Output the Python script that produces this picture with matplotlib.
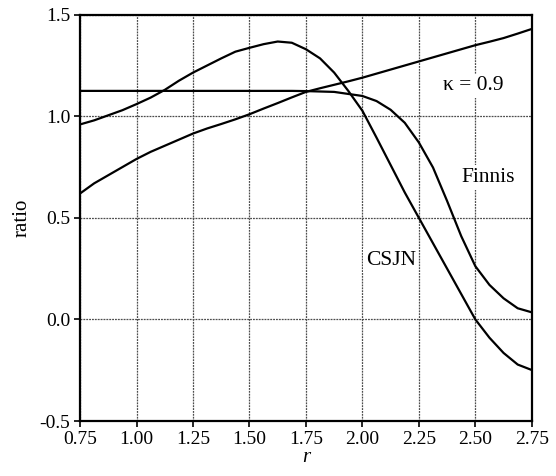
import matplotlib.pyplot as plt

plt.rcParams["font.family"] = ["Liberation Serif", "DejaVu Serif"]

r = [0.75, 0.8125, 0.875, 0.9375, 1.0, 1.0625, 1.125, 1.1875, 1.25, 1.3125,
     1.375, 1.4375, 1.5, 1.5625, 1.625, 1.6875, 1.75, 1.8125, 1.875, 1.9375,
     2.0, 2.0625, 2.125, 2.1875, 2.25, 2.3125, 2.375, 2.4375, 2.5, 2.5625,
     2.625, 2.6875, 2.75]

kappa_line = [0.62, 0.67, 0.71, 0.75, 0.79, 0.825, 0.855, 0.885, 0.915, 0.94,
              0.962, 0.985, 1.01, 1.038, 1.065, 1.093, 1.12, 1.138, 1.155, 1.172,
              1.19, 1.21, 1.23, 1.25, 1.27, 1.29, 1.31, 1.33, 1.35, 1.367,
              1.385, 1.407, 1.43]
csjn = [0.96, 0.98, 1.005, 1.03, 1.06, 1.092, 1.13, 1.175, 1.215, 1.25,
        1.285, 1.318, 1.337, 1.355, 1.368, 1.362, 1.33, 1.285, 1.215, 1.125,
        1.027, 0.895, 0.76, 0.625, 0.50, 0.375, 0.25, 0.125, 0.0, -0.09,
        -0.165, -0.222, -0.249]
finnis = [1.125, 1.125, 1.125, 1.125, 1.125, 1.125, 1.125, 1.125, 1.125, 1.125,
          1.125, 1.125, 1.125, 1.125, 1.125, 1.125, 1.124, 1.122, 1.12, 1.11,
          1.10, 1.075, 1.032, 0.968, 0.871, 0.748, 0.583, 0.41, 0.262, 0.17,
          0.104, 0.055, 0.035]

xticks = [0.75, 1.00, 1.25, 1.50, 1.75, 2.00, 2.25, 2.50, 2.75]
yticks = [-0.5, 0.0, 0.5, 1.0, 1.5]

fig = plt.figure(figsize=(5.56, 4.76), dpi=100)
ax = fig.add_axes([0.144, 0.1155, 0.8125, 0.8536])

for y in yticks:
    ax.axhline(y, color="0.3", lw=0.9, ls=(0, (1.5, 0.8)), zorder=1)
for x in xticks:
    ax.axvline(x, color="0.3", lw=0.9, ls=(0, (1.5, 0.8)), zorder=1)

ax.plot(r, kappa_line, color="black", lw=1.6, zorder=3)
ax.plot(r, csjn, color="black", lw=1.6, zorder=3)
ax.plot(r, finnis, color="black", lw=1.6, zorder=3)

box = dict(facecolor="white", edgecolor="none", pad=2)
ax.text(2.49, 1.15, "\u03ba = 0.9", fontsize=15.5, ha="center", va="center", bbox=box, zorder=4)
ax.text(2.555, 0.70, "Finnis", fontsize=15.5, ha="center", va="center", bbox=box, zorder=4)
ax.text(2.125, 0.29, "CSJN", fontsize=15.5, ha="center", va="center", bbox=box, zorder=4)

ax.set_xlim(0.75, 2.75)
ax.set_ylim(-0.5, 1.5)
ax.set_xticks(xticks)
ax.set_xticklabels([f"{v:.2f}" for v in xticks])
ax.set_yticks(yticks)
ax.set_yticklabels([f"{v:.1f}" for v in yticks])
ax.tick_params(direction="out", length=4, width=1.2, labelsize=14, pad=3)
for s in ax.spines.values():
    s.set_linewidth(1.6)

ax.set_xlabel("r", fontsize=15, style="italic", labelpad=0)
ax.set_ylabel("ratio", fontsize=15, labelpad=6)

fig.savefig("out.png", dpi=100)
